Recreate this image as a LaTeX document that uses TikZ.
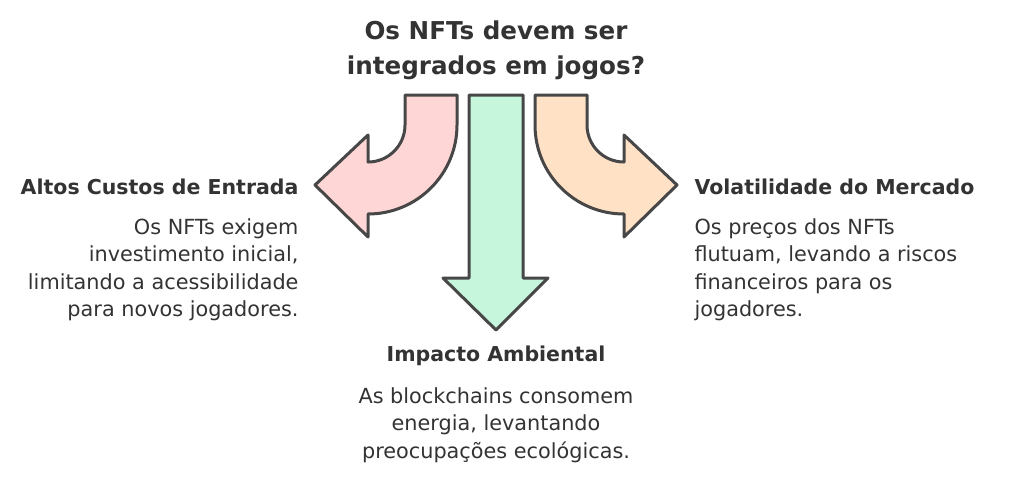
\documentclass[tikz,border=0pt]{standalone}
\usepackage{fontspec}
\setmainfont{DejaVu Sans}
\definecolor{ink}{HTML}{333333}
\definecolor{pinkf}{HTML}{FFD6D6}
\definecolor{greenf}{HTML}{C6F6DC}
\definecolor{peachf}{HTML}{FFE1C6}
\tikzset{
  arr/.style={draw=ink!90,line width=3pt,line join=round},
  title/.style={font=\fontsize{24.6}{35}\selectfont\bfseries,text=ink,align=center},
  head/.style={font=\fontsize{20.5}{22}\selectfont\bfseries,text=ink},
  body/.style={font=\fontsize{20.8}{27.5}\selectfont,text=ink},
}
\begin{document}
\begin{tikzpicture}[x=1pt,y=-1pt]
\useasboundingbox (0,0) rectangle (1024,480);
\node[title] (t) at (496,50) {Os NFTs devem ser\\integrados em jogos?};
% left arrow
\draw[arr,fill=pinkf] (405,95) -- (457,95) -- (457,125) arc[start angle=0,end angle=90,radius=89] -- (368,237) -- (315,185) -- (368,135) -- (368,162) arc[start angle=90,end angle=0,radius=37] -- cycle;
% right arrow
\draw[arr,fill=peachf] (587,95) -- (535,95) -- (535,125) arc[start angle=180,end angle=90,radius=89] -- (624,237) -- (677,185) -- (624,135) -- (624,162) arc[start angle=90,end angle=180,radius=37] -- cycle;
% middle arrow
\draw[arr,fill=greenf] (469,95) -- (523,95) -- (523,278) -- (548,278) -- (496,330) -- (443,278) -- (469,278) -- cycle;
\node[head,anchor=east] (lh) at (302,187) {Altos Custos de Entrada};
\node[body,anchor=north east,align=right] (lb) at (302,215) {Os NFTs exigem\\investimento inicial,\\limitando a acessibilidade\\para novos jogadores.};
\node[head,anchor=west] (rh) at (691,187) {Volatilidade do Mercado};
\node[body,anchor=north west,align=left] (rb) at (691,215) {Os preços dos NFTs\\flutuam, levando a riscos\\financeiros para os\\jogadores.};
\node[head] (bh) at (496,356) {Impacto Ambiental};
\node[body,anchor=north,align=center] (bb) at (496,384) {As blockchains consomem\\energia, levantando\\preocupações ecológicas.};
\end{tikzpicture}
\end{document}
